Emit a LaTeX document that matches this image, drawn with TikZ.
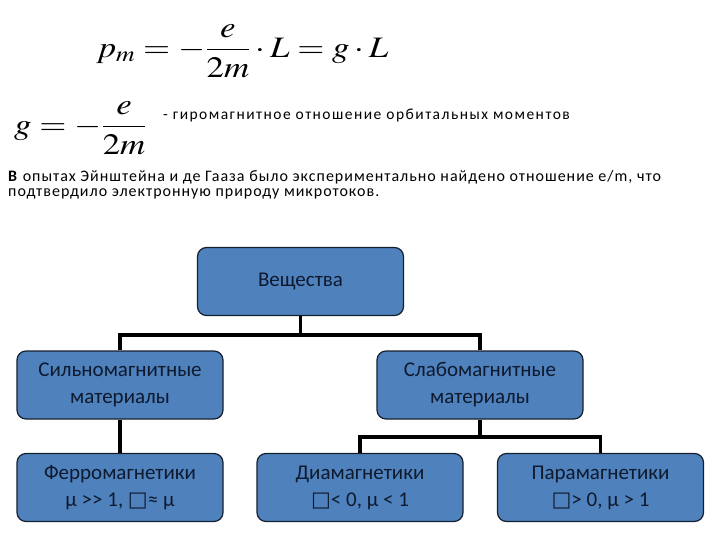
\documentclass[tikz,border=0pt]{standalone}
\usepackage{amsmath}
\usepackage{mathptmx}
\usepackage{fontspec}
\setmainfont{Carlito}
\newfontfamily\symfont{DejaVu Sans}
\usepackage{xcolor}
\usepackage{tikz}
\usetikzlibrary{positioning}

\definecolor{boxblue}{HTML}{4F81BD}
\definecolor{boxline}{HTML}{15202E}
\definecolor{boxtext}{HTML}{0E1A2E}

\newcommand{\nochar}{{\symfont\char"25A1}}

\begin{document}
\begin{tikzpicture}[
    x=1pt, y=-1pt,
    classbox/.style={draw=boxline, fill=boxblue, line width=1.2pt,
        rounded corners=9pt, minimum width=206pt, minimum height=68pt,
        align=center, text=boxtext, font=\fontsize{21}{27}\selectfont},
    conn/.style={draw=black, line width=3.6pt},
    every node/.style={inner sep=0pt}
]
    \useasboundingbox (0,0) rectangle (720,540);

    % formulas
    \node[anchor=west, font=\fontsize{27}{30}\selectfont] (pmeq) at (96,51)
        {\scalebox{1.29}[1.1]{$p_m = -\dfrac{e}{2m}\cdot L = g\cdot L$}};
    \node[anchor=west, font=\fontsize{27}{30}\selectfont] (geq) at (14,128)
        {\scalebox{1.29}[1.1]{$g = -\dfrac{e}{2m}$}};
    \node[anchor=west, font=\fontsize{15.5}{16}\selectfont\addfontfeatures{LetterSpace=9.5}] (gnote) at (163,115)
        {- гиромагнитное отношение орбитальных моментов};
    \node[anchor=north west, align=left, font=\fontsize{16}{15.5}\selectfont\addfontfeatures{LetterSpace=6.2}] (para) at (8,170)
        {\textbf{В} опытах Эйнштейна и де Гааза было экспериментально найдено отношение e/m, что\\
         подтвердило электронную природу микротоков.};

    % tree
    \node[classbox] (ves) at (300.5,281.5) {Вещества};
    \node[classbox] (sil) at (120,385) {Сильномагнитные\\материалы};
    \node[classbox] (sla) at (480,385) {Слабомагнитные\\материалы};
    \node[classbox] (fer) at (120,487.5) {Ферромагнетики\\μ >{}> 1, \nochar≈ μ};
    \node[classbox] (dia) at (360,487.5) {Диамагнетики\\\nochar< 0, μ < 1};
    \node[classbox] (par) at (600.5,487.5) {Парамагнетики\\\nochar> 0, μ > 1};

    \coordinate (j1) at (300.5,335);
    \coordinate (j2) at (480,437);

    \draw[conn] (ves.south) -- (j1);
    \draw[conn] (sil.north) |- (j1) -| (sla.north);
    \draw[conn] (sil.south) -- (fer.north);
    \draw[conn] (sla.south) -- (j2);
    \draw[conn] (dia.north) |- (j2) -| (par.north);
\end{tikzpicture}
\end{document}
